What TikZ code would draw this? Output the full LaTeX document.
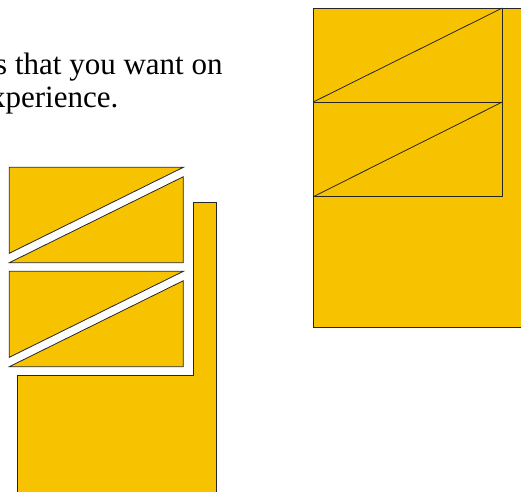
\documentclass[tikz,border=0pt]{standalone}
\usepackage{fontspec}
\setmainfont{Liberation Serif}
\definecolor{gold}{RGB}{247,195,0}
\tikzset{
  piece/.style={fill=gold, draw=black!85, line width=0.8pt, line join=miter},
  txt/.style={font=\fontsize{31}{35}\selectfont, inner sep=0pt, anchor=base east, text=black}
}
\begin{document}
\begin{tikzpicture}[x=1pt,y=-1pt]
\useasboundingbox (0,0) rectangle (521,491);
\clip (0,0) rectangle (521,491);
% text fragments
\node[txt] (l1) at (222.7,74) {and the items that you want on};
\node[txt] (l2) at (118.5,107) {your experience.};
% left, exploded figure
\draw[piece] (9.3,167.3) -- (183.3,167.3) -- (9.3,253.3) -- cycle;
\draw[piece] (183.3,176.7) -- (183.3,262.7) -- (9.3,262.7) -- cycle;
\draw[piece] (9.3,271.3) -- (183.3,271.3) -- (9.3,357.3) -- cycle;
\draw[piece] (183.3,280.7) -- (183.3,366.7) -- (9.3,366.7) -- cycle;
\draw[piece] (193,202.5) -- (216,202.5) -- (216,500) -- (17.3,500) -- (17.3,375.3) -- (193,375.3) -- cycle;
% right, assembled figure
\draw[piece] (313.3,8) rectangle (530,327.7);
\draw[piece] (313.3,8) rectangle (502.3,102);
\draw[piece] (313.3,102) rectangle (502.3,196.7);
\draw[black!85, line width=0.8pt] (313.3,102) -- (502.3,8);
\draw[black!85, line width=0.8pt] (313.3,196.7) -- (502.3,102);
\end{tikzpicture}
\end{document}
